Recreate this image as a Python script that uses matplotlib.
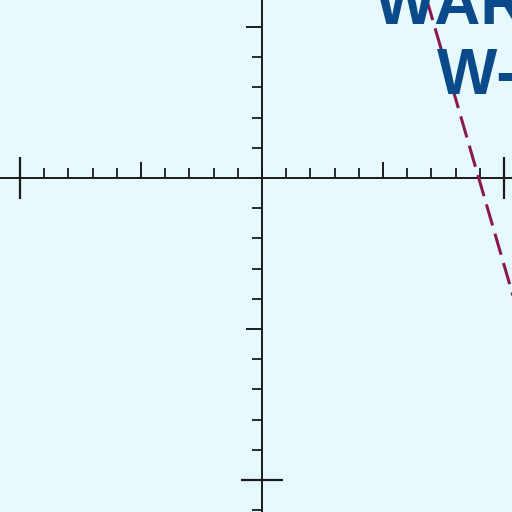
import numpy as np
import matplotlib.pyplot as plt
from matplotlib.ticker import FixedLocator, MultipleLocator

# data
x_major = [-5, 5]
y_major = [-5, 5]
x_cross = [-10, 10]
y_cross = [-10]
line_x = [6.5, 10.5]
line_y = [6.75, -4.25]
title_lines = ["WAR", "W-"]

plt.rcParams['text.kerning_factor'] = 12  # no pair kerning, like the reference

bg = '#e6fafd'
ink = '#1a1a1a'
fig = plt.figure(figsize=(5.12, 5.12), dpi=100, facecolor=bg)
ax = fig.add_axes([0, 0, 1, 1], facecolor=bg)
ax.set_xlim(-10.83, 10.33)
ax.set_ylim(-11.06, 5.894)

for s in ['top', 'right']:
    ax.spines[s].set_visible(False)
for s in ['left', 'bottom']:
    ax.spines[s].set_position('zero')
    ax.spines[s].set_linewidth(1.4)
    ax.spines[s].set_color(ink)

ax.xaxis.set_major_locator(FixedLocator(x_major))
ax.yaxis.set_major_locator(FixedLocator(y_major))
ax.xaxis.set_minor_locator(MultipleLocator(1))
ax.yaxis.set_minor_locator(MultipleLocator(1))
ax.tick_params(axis='x', which='major', direction='in', length=11.5, width=1.4, color=ink, labelbottom=False)
ax.tick_params(axis='x', which='minor', direction='in', length=7.2, width=1.3, color=ink)
ax.tick_params(axis='y', which='major', direction='out', length=11.5, width=1.4, color=ink, labelleft=False)
ax.tick_params(axis='y', which='minor', direction='out', length=7.2, width=1.3, color=ink)

# long end ticks crossing the axes
ax.vlines(x_cross, -0.7, 0.7, color=ink, lw=1.6)
ax.hlines(y_cross, -0.87, 0.87, color=ink, lw=1.6)

ax.plot(line_x, line_y, color='#8a1a4e', lw=2.2, dashes=(7.2, 2.8), zorder=3)

fig.text(375 / 512, 1 - 23.5 / 512, title_lines[0], fontsize=46, fontweight='bold',
         color='#0b4a8a', ha='left', va='baseline', family='Liberation Sans', zorder=5)
fig.text(437 / 512, 1 - 94 / 512, title_lines[1], fontsize=46, fontweight='bold',
         color='#0b4a8a', ha='left', va='baseline', family='Liberation Sans', zorder=5)

fig.savefig('out.png', dpi=100, facecolor=bg)
